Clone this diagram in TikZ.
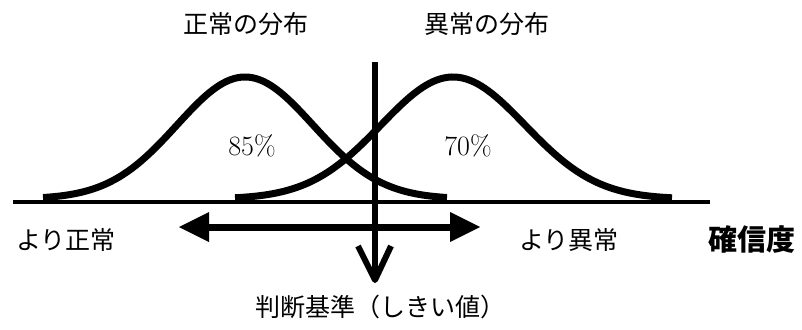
\documentclass[tikz,border=0pt]{standalone}
\usepackage{fontspec}
\newfontfamily\cjk{Noto Sans CJK JP}
\usetikzlibrary{arrows.meta}
\tikzset{
  jtext/.style={inner sep=0pt, font=\cjk\fontsize{25}{28}\selectfont},
  pct/.style={inner sep=0pt, font=\fontsize{28}{30}\selectfont},
  axislabel/.style={inner sep=0pt, font=\cjk\bfseries\fontsize{29}{32}\selectfont},
  bell/.style={line width=7pt, line cap=butt},
  baseline/.style={line width=4.5pt},
  dblarrow/.style={line width=7pt, {Triangle[length=30pt,width=30pt,line width=0pt]}-{Triangle[length=30pt,width=30pt,line width=0pt]}},
  threshold/.style={line width=6pt, line join=round}
}
\begin{document}
\begin{tikzpicture}[x=1pt,y=-1pt]
\useasboundingbox (0,0) rectangle (802,329);
% baseline
\coordinate (b0) at (13,202);
\coordinate (b1) at (710,202);
\draw[baseline] (b0) -- (b1);
% bells
\draw[bell] plot[domain=43:447, samples=120, smooth] (\x, {199 - 122*exp(-0.5*((\x-245)/68)^2)});
\draw[bell] plot[domain=235:672, samples=120, smooth] (\x, {199 - 122*exp(-0.5*((\x-453)/72)^2)});
% threshold line with open arrow head
\coordinate (ttop) at (375,62);
\coordinate (ttip) at (375,280);
\coordinate (barbL) at (358,246);
\coordinate (barbR) at (391,246);
\draw[threshold] (ttop) -- (ttip);
\draw[threshold] (barbL) -- (ttip) -- (barbR);
% double arrow
\coordinate (aL) at (179,227);
\coordinate (aR) at (480,227);
\draw[dblarrow] (aL) -- (aR);
% labels
\node[jtext] (nlabel) at (246,24) {正常の分布};
\node[jtext] (alabel) at (487,24) {異常の分布};
\node[pct] (p85) at (252,146) {85\%};
\node[pct] (p70) at (468,146) {70\%};
\node[jtext] (morenormal) at (66,240) {より正常};
\node[jtext] (moreabn) at (569,240) {より異常};
\node[axislabel] (conf) at (752,240) {確信度};
\node[jtext] (crit) at (380,307) {判断基準（しきい値）};
\end{tikzpicture}
\end{document}
